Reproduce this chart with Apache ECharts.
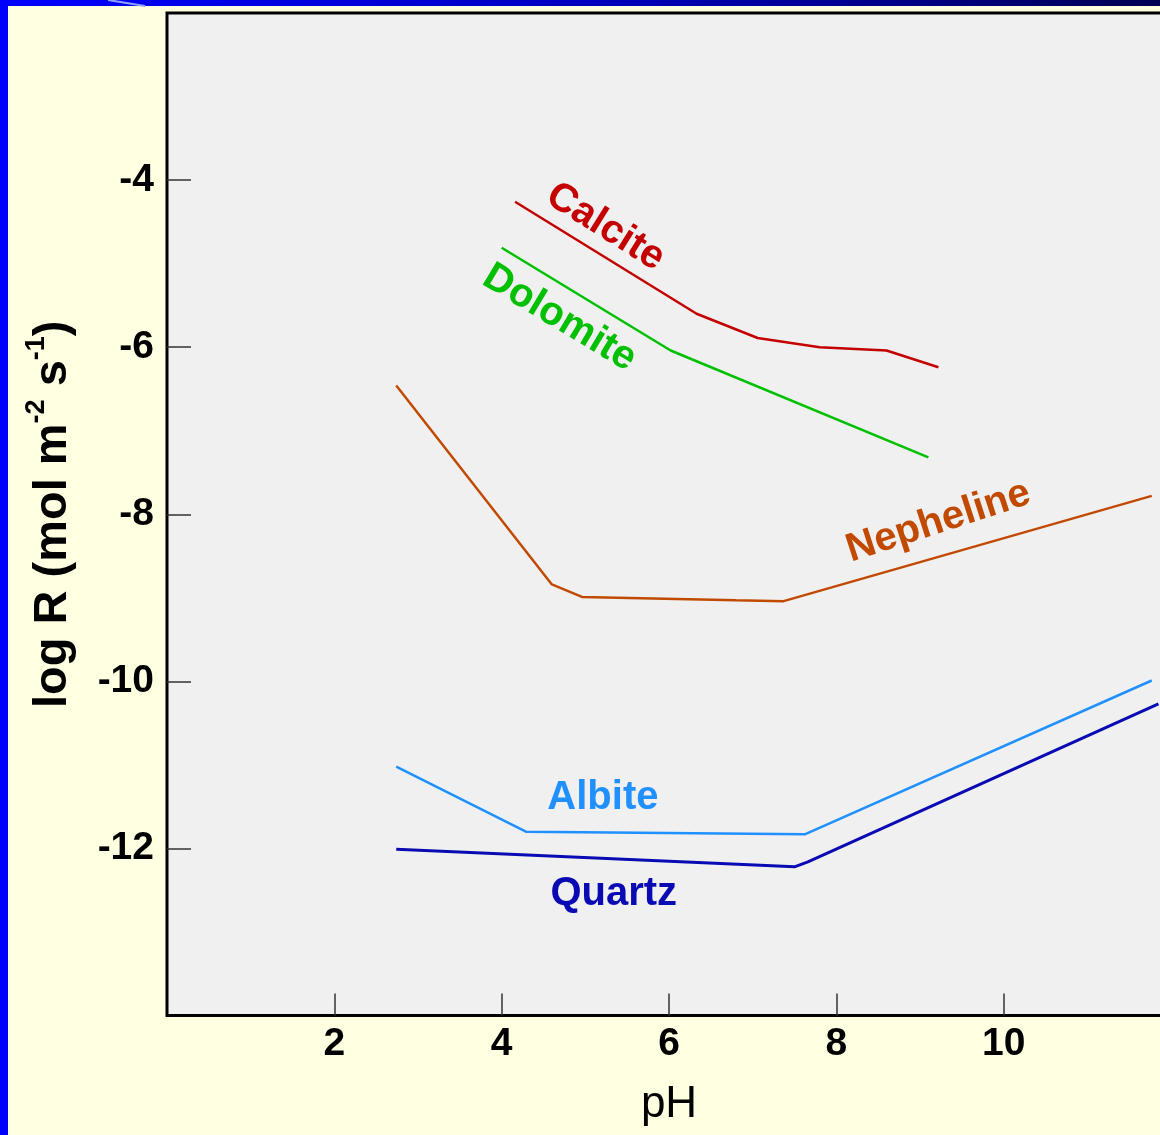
<!DOCTYPE html>
<html>
<head>
<meta charset="utf-8">
<script src="https://cdn.jsdelivr.net/npm/echarts@6/dist/echarts.min.js"></script>
<style>
html,body{margin:0;padding:0;background:#FFFFE2;overflow:hidden;width:1160px;height:1135px;}
#chart{width:1171px;height:1135px;}
</style>
</head>
<body>
<div id="chart"></div>
<script>
// ---- data ----
const xTickLabels = [2, 4, 6, 8, 10];
const yTickLabels = [-4, -6, -8, -10, -12];

const calcitePH   = [4.16, 6.33, 7.06, 7.80, 8.60, 9.22];
const calciteLogR = [-4.26, -5.60, -5.89, -6.00, -6.04, -6.24];

const dolomitePH   = [4.00, 6.02, 9.10];
const dolomiteLogR = [-4.81, -6.04, -7.32];

const nephelinePH   = [2.74, 4.60, 4.96, 6.80, 7.37, 11.77];
const nephelineLogR = [-6.46, -8.84, -8.99, -9.03, -9.04, -7.78];

const albitePH   = [2.74, 4.29, 7.63, 11.77];
const albiteLogR = [-11.02, -11.80, -11.83, -9.99];

const quartzPH   = [2.74, 7.50, 7.66, 11.85];
const quartzLogR = [-12.01, -12.22, -12.16, -10.27];

const mineralNames = ['Calcite', 'Dolomite', 'Nepheline', 'Albite', 'Quartz'];

// ---- presentation ----
const FONT = '"Liberation Sans", Arial, Helvetica, sans-serif';
const colors = {
  Calcite: '#C40000',
  Dolomite: '#00C000',
  Nepheline: '#C24A00',
  Albite: '#2090FF',
  Quartz: '#0A0AB4'
};
// label anchors (in data units) and rotation (degrees, counter-clockwise positive)
const labelPlacement = {
  Calcite:   { at: [5.24, -4.56],  rot: -32 },
  Dolomite:  { at: [4.69, -5.65],  rot: -31 },
  Nepheline: { at: [9.22, -8.09],  rot: 18 },
  Albite:    { at: [5.21, -11.40], rot: 0 },
  Quartz:    { at: [5.34, -12.54], rot: 0 }
};

function zip(xs, ys) { return xs.map((x, i) => [x, ys[i]]); }
const seriesData = {
  Calcite: zip(calcitePH, calciteLogR),
  Dolomite: zip(dolomitePH, dolomiteLogR),
  Nepheline: zip(nephelinePH, nephelineLogR),
  Albite: zip(albitePH, albiteLogR),
  Quartz: zip(quartzPH, quartzLogR)
};

const chart = echarts.init(document.getElementById('chart'), null, { renderer: 'canvas' });

const option = {
  backgroundColor: '#FFFFE2',
  animation: false,
  grid: {
    left: 167, top: 13, bottom: 119.5, right: 0,
    show: true,
    backgroundColor: '#F0F0F0',
    borderColor: '#000000',
    borderWidth: 3
  },
  xAxis: {
    type: 'value',
    min: 0, max: 12, interval: 2,
    name: 'pH',
    nameLocation: 'middle',
    nameGap: 67,
    nameTextStyle: { fontFamily: FONT, fontSize: 44, color: '#000', fontWeight: 'normal' },
    axisLine: { show: false },
    axisTick: { show: true, inside: true, length: 22, lineStyle: { color: '#333', width: 1.5 } },
    splitLine: { show: false },
    axisLabel: {
      margin: 9,
      fontFamily: FONT, fontSize: 39, fontWeight: 'bold', color: '#000',
      showMinLabel: false, showMaxLabel: false,
      formatter: v => (xTickLabels.indexOf(v) >= 0 ? String(v) : '')
    }
  },
  yAxis: {
    type: 'value',
    min: -14, max: -2, interval: 2,
    name: '{a|log R (mol m}{s|-2}{a| s}{s|-1}{a|)}',
    nameLocation: 'middle',
    nameGap: 90,
    nameRotate: 90,
    nameTextStyle: {
      rich: {
        a: { fontFamily: FONT, fontSize: 47, fontWeight: 'bold', color: '#000', lineHeight: 54, verticalAlign: 'bottom' },
        s: { fontFamily: FONT, fontSize: 27, fontWeight: 'bold', color: '#000', lineHeight: 54, verticalAlign: 'top' }
      }
    },
    axisLine: { show: false },
    axisTick: { show: true, inside: true, length: 24, lineStyle: { color: '#333', width: 1.5 } },
    splitLine: { show: false },
    axisLabel: {
      margin: 13,
      fontFamily: FONT, fontSize: 39, fontWeight: 'bold', color: '#000',
      showMinLabel: false, showMaxLabel: false,
      formatter: v => (yTickLabels.indexOf(v) >= 0 ? String(v) : '')
    }
  },
  series: mineralNames.map(n => ({
    name: n,
    type: 'line',
    data: seriesData[n],
    symbol: 'none',
    smooth: false,
    clip: true,
    lineStyle: { color: colors[n], width: n === 'Quartz' ? 3 : 2.5 }
  }))
};

chart.setOption(option);

// decorations + labels placed through the chart's own coordinate conversion
const graphics = [
  { type: 'rect', shape: { x: 0, y: 0, width: 1171, height: 6 },
    style: { fill: new echarts.graphic.LinearGradient(0, 0, 1, 0, [
      { offset: 0, color: '#0000FF' },
      { offset: 0.5, color: '#0000C0' },
      { offset: 0.8, color: '#000080' },
      { offset: 1, color: '#000050' }
    ]) }, z: 100 },
  { type: 'rect', shape: { x: 0, y: 0, width: 8, height: 1135 }, style: { fill: '#0000FF' }, z: 101 },
  { type: 'line', shape: { x1: 108, y1: 0, x2: 145, y2: 6 }, style: { stroke: '#8FA0FF', lineWidth: 2 }, z: 102 }
];
mineralNames.forEach(n => {
  const p = chart.convertToPixel({ gridIndex: 0 }, labelPlacement[n].at);
  graphics.push({
    type: 'text',
    x: p[0], y: p[1],
    rotation: labelPlacement[n].rot * Math.PI / 180,
    style: {
      text: n,
      fill: colors[n],
      font: 'bold 40px ' + FONT,
      align: 'center',
      verticalAlign: 'middle'
    },
    z: 50
  });
});
chart.setOption({ graphic: graphics });
</script>
</body>
</html>
